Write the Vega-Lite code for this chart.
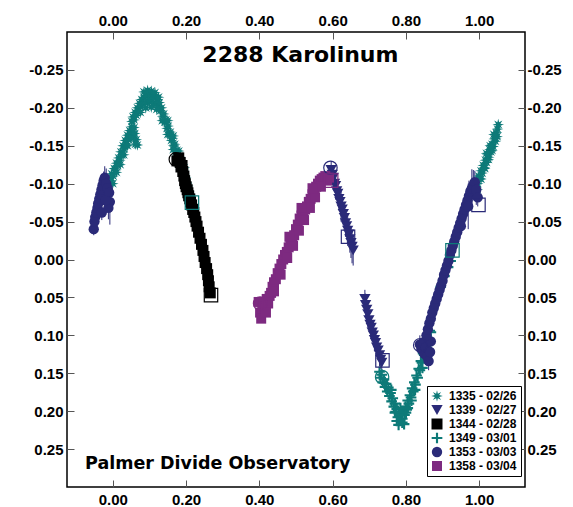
{
"$schema": "https://vega.github.io/schema/vega-lite/v6.json",
"width": 458, "height": 455,
"autosize": {"type": "none"},
"padding": {"left": 67, "top": 32, "right": 48, "bottom": 20},
"background": "white",
"config": {
  "view": {"stroke": "black", "strokeWidth": 1.5},
  "axis": {"labelFont": "Liberation Sans", "labelFontWeight": "bold", "labelFontSize": 15, "labelColor": "black",
           "tickColor": "#555", "tickWidth": 1, "tickSize": -7, "domain": false, "grid": false, "title": null,
           "labelOverlap": false, "labelFlush": false}
},
"datasets": {
"pts": [
{"session":"1335 - 02/26","phase":-0.020,"mag":-0.090},{"session":"1335 - 02/26","phase":-0.017,"mag":-0.098},{"session":"1335 - 02/26","phase":-0.013,"mag":-0.096},{"session":"1335 - 02/26","phase":-0.010,"mag":-0.106},{"session":"1335 - 02/26","phase":-0.006,"mag":-0.104},{"session":"1335 - 02/26","phase":-0.003,"mag":-0.113},{"session":"1335 - 02/26","phase":0.001,"mag":-0.110},{"session":"1335 - 02/26","phase":0.004,"mag":-0.120},{"session":"1335 - 02/26","phase":0.007,"mag":-0.118},{"session":"1335 - 02/26","phase":0.010,"mag":-0.127},{"session":"1335 - 02/26","phase":0.013,"mag":-0.124},{"session":"1335 - 02/26","phase":0.016,"mag":-0.134},{"session":"1335 - 02/26","phase":0.019,"mag":-0.131},{"session":"1335 - 02/26","phase":0.022,"mag":-0.142},{"session":"1335 - 02/26","phase":0.025,"mag":-0.138},{"session":"1335 - 02/26","phase":0.028,"mag":-0.150},{"session":"1335 - 02/26","phase":0.031,"mag":-0.146},{"session":"1335 - 02/26","phase":0.034,"mag":-0.157},{"session":"1335 - 02/26","phase":0.037,"mag":-0.152},{"session":"1335 - 02/26","phase":0.040,"mag":-0.164},{"session":"1335 - 02/26","phase":0.043,"mag":-0.158},{"session":"1335 - 02/26","phase":0.046,"mag":-0.170},{"session":"1335 - 02/26","phase":0.049,"mag":-0.164},{"session":"1335 - 02/26","phase":0.052,"mag":-0.175},{"session":"1335 - 02/26","phase":0.055,"mag":-0.168},{"session":"1335 - 02/26","phase":0.057,"mag":-0.160},
{"session":"1335 - 02/26","phase":0.000,"mag":-0.100},{"session":"1335 - 02/26","phase":0.010,"mag":-0.115},{"session":"1335 - 02/26","phase":0.020,"mag":-0.125},{"session":"1335 - 02/26","phase":0.030,"mag":-0.138},{"session":"1335 - 02/26","phase":0.040,"mag":-0.150},{"session":"1335 - 02/26","phase":0.050,"mag":-0.160},{"session":"1335 - 02/26","phase":0.060,"mag":-0.166},{"session":"1335 - 02/26","phase":0.064,"mag":-0.158},{"session":"1335 - 02/26","phase":0.067,"mag":-0.151},{"session":"1335 - 02/26","phase":0.062,"mag":-0.152},{"session":"1335 - 02/26","phase":0.058,"mag":-0.174},
{"session":"1335 - 02/26","phase":0.052,"mag":-0.182},{"session":"1335 - 02/26","phase":0.055,"mag":-0.188},{"session":"1335 - 02/26","phase":0.058,"mag":-0.184},{"session":"1335 - 02/26","phase":0.061,"mag":-0.194},{"session":"1335 - 02/26","phase":0.064,"mag":-0.190},{"session":"1335 - 02/26","phase":0.067,"mag":-0.200},{"session":"1335 - 02/26","phase":0.070,"mag":-0.196},{"session":"1335 - 02/26","phase":0.073,"mag":-0.206},{"session":"1335 - 02/26","phase":0.076,"mag":-0.201},{"session":"1335 - 02/26","phase":0.079,"mag":-0.211},{"session":"1335 - 02/26","phase":0.082,"mag":-0.205},{"session":"1335 - 02/26","phase":0.085,"mag":-0.214},{"session":"1335 - 02/26","phase":0.088,"mag":-0.207},{"session":"1335 - 02/26","phase":0.091,"mag":-0.216},{"session":"1335 - 02/26","phase":0.094,"mag":-0.208},{"session":"1335 - 02/26","phase":0.097,"mag":-0.217},{"session":"1335 - 02/26","phase":0.100,"mag":-0.209},{"session":"1335 - 02/26","phase":0.103,"mag":-0.216},{"session":"1335 - 02/26","phase":0.106,"mag":-0.208},{"session":"1335 - 02/26","phase":0.109,"mag":-0.215},{"session":"1335 - 02/26","phase":0.112,"mag":-0.206},{"session":"1335 - 02/26","phase":0.115,"mag":-0.214},{"session":"1335 - 02/26","phase":0.118,"mag":-0.205},{"session":"1335 - 02/26","phase":0.121,"mag":-0.211},{"session":"1335 - 02/26","phase":0.124,"mag":-0.201},{"session":"1335 - 02/26","phase":0.127,"mag":-0.207},{"session":"1335 - 02/26","phase":0.130,"mag":-0.196},{"session":"1335 - 02/26","phase":0.133,"mag":-0.200},{"session":"1335 - 02/26","phase":0.136,"mag":-0.189},{"session":"1335 - 02/26","phase":0.139,"mag":-0.192},{"session":"1335 - 02/26","phase":0.142,"mag":-0.181},{"session":"1335 - 02/26","phase":0.145,"mag":-0.184},{"session":"1335 - 02/26","phase":0.148,"mag":-0.173},{"session":"1335 - 02/26","phase":0.151,"mag":-0.176},{"session":"1335 - 02/26","phase":0.154,"mag":-0.165},{"session":"1335 - 02/26","phase":0.157,"mag":-0.168},{"session":"1335 - 02/26","phase":0.160,"mag":-0.157},{"session":"1335 - 02/26","phase":0.163,"mag":-0.160},{"session":"1335 - 02/26","phase":0.166,"mag":-0.150},{"session":"1335 - 02/26","phase":0.169,"mag":-0.152},{"session":"1335 - 02/26","phase":0.172,"mag":-0.142},{"session":"1335 - 02/26","phase":0.175,"mag":-0.144},{"session":"1335 - 02/26","phase":0.178,"mag":-0.135},{"session":"1335 - 02/26","phase":0.181,"mag":-0.136},{"session":"1335 - 02/26","phase":0.184,"mag":-0.127},{"session":"1335 - 02/26","phase":0.187,"mag":-0.128},{"session":"1335 - 02/26","phase":0.190,"mag":-0.119},{"session":"1335 - 02/26","phase":0.193,"mag":-0.118},{"session":"1335 - 02/26","phase":0.196,"mag":-0.110},{"session":"1335 - 02/26","phase":0.199,"mag":-0.108},{"session":"1335 - 02/26","phase":0.202,"mag":-0.100},{"session":"1335 - 02/26","phase":0.205,"mag":-0.097},{"session":"1335 - 02/26","phase":0.208,"mag":-0.089},{"session":"1335 - 02/26","phase":0.211,"mag":-0.086},{"session":"1335 - 02/26","phase":0.214,"mag":-0.078},{"session":"1335 - 02/26","phase":0.217,"mag":-0.074},
{"session":"1335 - 02/26","phase":0.085,"mag":-0.221},{"session":"1335 - 02/26","phase":0.095,"mag":-0.223},{"session":"1335 - 02/26","phase":0.105,"mag":-0.222},{"session":"1335 - 02/26","phase":0.115,"mag":-0.220},{"session":"1335 - 02/26","phase":0.125,"mag":-0.214},{"session":"1335 - 02/26","phase":0.075,"mag":-0.194},{"session":"1335 - 02/26","phase":0.090,"mag":-0.200},{"session":"1335 - 02/26","phase":0.105,"mag":-0.201},{"session":"1335 - 02/26","phase":0.120,"mag":-0.198},{"session":"1335 - 02/26","phase":0.135,"mag":-0.183},{"session":"1335 - 02/26","phase":0.150,"mag":-0.165},{"session":"1335 - 02/26","phase":0.165,"mag":-0.145},{"session":"1335 - 02/26","phase":0.180,"mag":-0.126},{"session":"1335 - 02/26","phase":0.195,"mag":-0.104},{"session":"1335 - 02/26","phase":0.150,"mag":-0.183},{"session":"1335 - 02/26","phase":0.165,"mag":-0.163},{"session":"1335 - 02/26","phase":0.180,"mag":-0.143},{"session":"1335 - 02/26","phase":0.195,"mag":-0.121},
{"session":"1335 - 02/26","phase":0.984,"mag":-0.088},{"session":"1335 - 02/26","phase":0.987,"mag":-0.096},{"session":"1335 - 02/26","phase":0.990,"mag":-0.093},{"session":"1335 - 02/26","phase":0.993,"mag":-0.103},{"session":"1335 - 02/26","phase":0.996,"mag":-0.100},{"session":"1335 - 02/26","phase":0.999,"mag":-0.110},{"session":"1335 - 02/26","phase":1.002,"mag":-0.107},{"session":"1335 - 02/26","phase":1.005,"mag":-0.117},{"session":"1335 - 02/26","phase":1.008,"mag":-0.114},{"session":"1335 - 02/26","phase":1.011,"mag":-0.124},{"session":"1335 - 02/26","phase":1.014,"mag":-0.121},{"session":"1335 - 02/26","phase":1.017,"mag":-0.131},{"session":"1335 - 02/26","phase":1.020,"mag":-0.128},{"session":"1335 - 02/26","phase":1.023,"mag":-0.138},{"session":"1335 - 02/26","phase":1.026,"mag":-0.135},{"session":"1335 - 02/26","phase":1.029,"mag":-0.145},{"session":"1335 - 02/26","phase":1.032,"mag":-0.142},{"session":"1335 - 02/26","phase":1.035,"mag":-0.152},{"session":"1335 - 02/26","phase":1.038,"mag":-0.149},{"session":"1335 - 02/26","phase":1.041,"mag":-0.159},{"session":"1335 - 02/26","phase":1.044,"mag":-0.156},{"session":"1335 - 02/26","phase":1.047,"mag":-0.167},{"session":"1335 - 02/26","phase":1.049,"mag":-0.162},{"session":"1335 - 02/26","phase":1.050,"mag":-0.172},
{"session":"1335 - 02/26","phase":0.995,"mag":-0.092},{"session":"1335 - 02/26","phase":1.005,"mag":-0.106},{"session":"1335 - 02/26","phase":1.015,"mag":-0.120},{"session":"1335 - 02/26","phase":1.025,"mag":-0.132},{"session":"1335 - 02/26","phase":1.035,"mag":-0.144},{"session":"1335 - 02/26","phase":1.045,"mag":-0.160},{"session":"1335 - 02/26","phase":1.052,"mag":-0.178},{"session":"1335 - 02/26","phase":1.040,"mag":-0.165},{"session":"1335 - 02/26","phase":1.030,"mag":-0.150},{"session":"1335 - 02/26","phase":1.020,"mag":-0.140},
{"session":"1349 - 03/01","phase":0.728,"mag":0.148},{"session":"1349 - 03/01","phase":0.731,"mag":0.156},{"session":"1349 - 03/01","phase":0.734,"mag":0.152},{"session":"1349 - 03/01","phase":0.737,"mag":0.162},{"session":"1349 - 03/01","phase":0.740,"mag":0.158},{"session":"1349 - 03/01","phase":0.743,"mag":0.168},{"session":"1349 - 03/01","phase":0.746,"mag":0.164},{"session":"1349 - 03/01","phase":0.749,"mag":0.174},{"session":"1349 - 03/01","phase":0.752,"mag":0.169},{"session":"1349 - 03/01","phase":0.755,"mag":0.180},{"session":"1349 - 03/01","phase":0.758,"mag":0.176},{"session":"1349 - 03/01","phase":0.761,"mag":0.187},{"session":"1349 - 03/01","phase":0.764,"mag":0.183},{"session":"1349 - 03/01","phase":0.767,"mag":0.194},{"session":"1349 - 03/01","phase":0.770,"mag":0.190},{"session":"1349 - 03/01","phase":0.772,"mag":0.201},{"session":"1349 - 03/01","phase":0.775,"mag":0.197},{"session":"1349 - 03/01","phase":0.778,"mag":0.208},{"session":"1349 - 03/01","phase":0.781,"mag":0.203},{"session":"1349 - 03/01","phase":0.784,"mag":0.213},{"session":"1349 - 03/01","phase":0.787,"mag":0.205},{"session":"1349 - 03/01","phase":0.790,"mag":0.210},{"session":"1349 - 03/01","phase":0.793,"mag":0.200},{"session":"1349 - 03/01","phase":0.796,"mag":0.205},{"session":"1349 - 03/01","phase":0.799,"mag":0.194},{"session":"1349 - 03/01","phase":0.802,"mag":0.198},{"session":"1349 - 03/01","phase":0.805,"mag":0.186},{"session":"1349 - 03/01","phase":0.808,"mag":0.190},{"session":"1349 - 03/01","phase":0.811,"mag":0.179},{"session":"1349 - 03/01","phase":0.814,"mag":0.182},{"session":"1349 - 03/01","phase":0.817,"mag":0.170},{"session":"1349 - 03/01","phase":0.820,"mag":0.174},{"session":"1349 - 03/01","phase":0.823,"mag":0.162},{"session":"1349 - 03/01","phase":0.826,"mag":0.165},{"session":"1349 - 03/01","phase":0.829,"mag":0.153},{"session":"1349 - 03/01","phase":0.832,"mag":0.156},{"session":"1349 - 03/01","phase":0.835,"mag":0.144},{"session":"1349 - 03/01","phase":0.838,"mag":0.146},{"session":"1349 - 03/01","phase":0.841,"mag":0.134},{"session":"1349 - 03/01","phase":0.844,"mag":0.136},{"session":"1349 - 03/01","phase":0.847,"mag":0.124},{"session":"1349 - 03/01","phase":0.850,"mag":0.126},{"session":"1349 - 03/01","phase":0.853,"mag":0.114},{"session":"1349 - 03/01","phase":0.856,"mag":0.116},{"session":"1349 - 03/01","phase":0.859,"mag":0.104},{"session":"1349 - 03/01","phase":0.862,"mag":0.106},{"session":"1349 - 03/01","phase":0.865,"mag":0.094},{"session":"1349 - 03/01","phase":0.868,"mag":0.096},{"session":"1349 - 03/01","phase":0.895,"mag":0.036},{"session":"1349 - 03/01","phase":0.905,"mag":0.022},{"session":"1349 - 03/01","phase":0.915,"mag":0.010},{"session":"1349 - 03/01","phase":0.922,"mag":0.002},
{"session":"1349 - 03/01","phase":0.760,"mag":0.172},{"session":"1349 - 03/01","phase":0.770,"mag":0.202},{"session":"1349 - 03/01","phase":0.780,"mag":0.218},{"session":"1349 - 03/01","phase":0.790,"mag":0.215},{"session":"1349 - 03/01","phase":0.800,"mag":0.202},{"session":"1349 - 03/01","phase":0.775,"mag":0.213},{"session":"1349 - 03/01","phase":0.795,"mag":0.217},{"session":"1349 - 03/01","phase":0.785,"mag":0.196},{"session":"1349 - 03/01","phase":0.805,"mag":0.196},{"session":"1349 - 03/01","phase":0.815,"mag":0.186},{"session":"1349 - 03/01","phase":0.825,"mag":0.172},{"session":"1349 - 03/01","phase":0.845,"mag":0.143},
{"session":"1339 - 02/27","phase":0.596,"mag":-0.118,"err":0.012},{"session":"1339 - 02/27","phase":0.599,"mag":-0.112,"err":0.010},{"session":"1339 - 02/27","phase":0.602,"mag":-0.108,"err":0.015},{"session":"1339 - 02/27","phase":0.605,"mag":-0.100,"err":0.010},{"session":"1339 - 02/27","phase":0.608,"mag":-0.097,"err":0.018},{"session":"1339 - 02/27","phase":0.611,"mag":-0.090,"err":0.012},{"session":"1339 - 02/27","phase":0.614,"mag":-0.087,"err":0.010},{"session":"1339 - 02/27","phase":0.617,"mag":-0.080,"err":0.015},{"session":"1339 - 02/27","phase":0.620,"mag":-0.076,"err":0.012},{"session":"1339 - 02/27","phase":0.623,"mag":-0.070,"err":0.020},{"session":"1339 - 02/27","phase":0.626,"mag":-0.066,"err":0.012},{"session":"1339 - 02/27","phase":0.629,"mag":-0.060,"err":0.015},{"session":"1339 - 02/27","phase":0.632,"mag":-0.055,"err":0.010},{"session":"1339 - 02/27","phase":0.635,"mag":-0.048,"err":0.018},{"session":"1339 - 02/27","phase":0.638,"mag":-0.044,"err":0.012},{"session":"1339 - 02/27","phase":0.641,"mag":-0.038,"err":0.020},{"session":"1339 - 02/27","phase":0.644,"mag":-0.033,"err":0.015},{"session":"1339 - 02/27","phase":0.647,"mag":-0.027,"err":0.018},{"session":"1339 - 02/27","phase":0.650,"mag":-0.022,"err":0.020},{"session":"1339 - 02/27","phase":0.653,"mag":-0.017,"err":0.022},{"session":"1339 - 02/27","phase":0.656,"mag":-0.012,"err":0.020},
{"session":"1339 - 02/27","phase":0.688,"mag":0.052,"err":0.012},{"session":"1339 - 02/27","phase":0.690,"mag":0.060,"err":0.015},{"session":"1339 - 02/27","phase":0.693,"mag":0.066,"err":0.010},{"session":"1339 - 02/27","phase":0.696,"mag":0.072,"err":0.018},{"session":"1339 - 02/27","phase":0.699,"mag":0.080,"err":0.012},{"session":"1339 - 02/27","phase":0.702,"mag":0.086,"err":0.010},{"session":"1339 - 02/27","phase":0.705,"mag":0.090,"err":0.015},{"session":"1339 - 02/27","phase":0.708,"mag":0.096,"err":0.012},{"session":"1339 - 02/27","phase":0.711,"mag":0.100,"err":0.010},{"session":"1339 - 02/27","phase":0.714,"mag":0.106,"err":0.015},{"session":"1339 - 02/27","phase":0.717,"mag":0.110,"err":0.012},{"session":"1339 - 02/27","phase":0.720,"mag":0.116,"err":0.010},{"session":"1339 - 02/27","phase":0.724,"mag":0.120,"err":0.012},{"session":"1339 - 02/27","phase":0.728,"mag":0.126,"err":0.015},{"session":"1339 - 02/27","phase":0.731,"mag":0.132,"err":0.012},{"session":"1339 - 02/27","phase":0.734,"mag":0.136,"err":0.010},
{"session":"1353 - 03/03","phase":-0.052,"mag":-0.040,"err":0.008},{"session":"1353 - 03/03","phase":-0.050,"mag":-0.050,"err":0.010},{"session":"1353 - 03/03","phase":-0.048,"mag":-0.056,"err":0.012},{"session":"1353 - 03/03","phase":-0.045,"mag":-0.062,"err":0.010},{"session":"1353 - 03/03","phase":-0.042,"mag":-0.068,"err":0.015},{"session":"1353 - 03/03","phase":-0.040,"mag":-0.074,"err":0.012},{"session":"1353 - 03/03","phase":-0.037,"mag":-0.080,"err":0.010},{"session":"1353 - 03/03","phase":-0.034,"mag":-0.086,"err":0.015},{"session":"1353 - 03/03","phase":-0.031,"mag":-0.092,"err":0.012},{"session":"1353 - 03/03","phase":-0.028,"mag":-0.098,"err":0.010},{"session":"1353 - 03/03","phase":-0.025,"mag":-0.104,"err":0.012},{"session":"1353 - 03/03","phase":-0.022,"mag":-0.108,"err":0.015},{"session":"1353 - 03/03","phase":-0.018,"mag":-0.100,"err":0.020},{"session":"1353 - 03/03","phase":-0.014,"mag":-0.094,"err":0.015},{"session":"1353 - 03/03","phase":-0.010,"mag":-0.088,"err":0.020},{"session":"1353 - 03/03","phase":-0.008,"mag":-0.076,"err":0.030},{"session":"1353 - 03/03","phase":-0.012,"mag":-0.068,"err":0.015},{"session":"1353 - 03/03","phase":-0.020,"mag":-0.078,"err":0.012},{"session":"1353 - 03/03","phase":-0.030,"mag":-0.062,"err":0.010},
{"session":"1353 - 03/03","phase":0.838,"mag":0.112,"err":0.012},{"session":"1353 - 03/03","phase":0.842,"mag":0.118,"err":0.015},{"session":"1353 - 03/03","phase":0.846,"mag":0.110,"err":0.010},{"session":"1353 - 03/03","phase":0.850,"mag":0.124,"err":0.012},{"session":"1353 - 03/03","phase":0.854,"mag":0.116,"err":0.018},{"session":"1353 - 03/03","phase":0.858,"mag":0.128,"err":0.010},{"session":"1353 - 03/03","phase":0.862,"mag":0.134,"err":0.012},{"session":"1353 - 03/03","phase":0.866,"mag":0.122,"err":0.015},{"session":"1353 - 03/03","phase":0.868,"mag":0.108,"err":0.010},{"session":"1353 - 03/03","phase":0.856,"mag":0.100,"err":0.012},{"session":"1353 - 03/03","phase":0.860,"mag":0.092,"err":0.010},{"session":"1353 - 03/03","phase":0.864,"mag":0.084,"err":0.012},{"session":"1353 - 03/03","phase":0.868,"mag":0.078,"err":0.010},{"session":"1353 - 03/03","phase":0.872,"mag":0.070,"err":0.012},{"session":"1353 - 03/03","phase":0.876,"mag":0.064,"err":0.010},{"session":"1353 - 03/03","phase":0.880,"mag":0.058,"err":0.012},{"session":"1353 - 03/03","phase":0.884,"mag":0.052,"err":0.010},{"session":"1353 - 03/03","phase":0.888,"mag":0.046,"err":0.012},{"session":"1353 - 03/03","phase":0.892,"mag":0.040,"err":0.010},{"session":"1353 - 03/03","phase":0.896,"mag":0.034,"err":0.012},{"session":"1353 - 03/03","phase":0.900,"mag":0.028,"err":0.010},{"session":"1353 - 03/03","phase":0.904,"mag":0.020,"err":0.012},{"session":"1353 - 03/03","phase":0.908,"mag":0.014,"err":0.010},{"session":"1353 - 03/03","phase":0.912,"mag":0.008,"err":0.012},{"session":"1353 - 03/03","phase":0.916,"mag":0.002,"err":0.010},{"session":"1353 - 03/03","phase":0.920,"mag":-0.006,"err":0.012},{"session":"1353 - 03/03","phase":0.924,"mag":-0.012,"err":0.010},{"session":"1353 - 03/03","phase":0.928,"mag":-0.018,"err":0.012},{"session":"1353 - 03/03","phase":0.932,"mag":-0.024,"err":0.010},{"session":"1353 - 03/03","phase":0.936,"mag":-0.030,"err":0.012},{"session":"1353 - 03/03","phase":0.940,"mag":-0.036,"err":0.010},{"session":"1353 - 03/03","phase":0.944,"mag":-0.042,"err":0.012},{"session":"1353 - 03/03","phase":0.948,"mag":-0.048,"err":0.010},{"session":"1353 - 03/03","phase":0.952,"mag":-0.054,"err":0.012},{"session":"1353 - 03/03","phase":0.956,"mag":-0.060,"err":0.010},{"session":"1353 - 03/03","phase":0.960,"mag":-0.066,"err":0.012},{"session":"1353 - 03/03","phase":0.964,"mag":-0.072,"err":0.015},{"session":"1353 - 03/03","phase":0.968,"mag":-0.078,"err":0.012},{"session":"1353 - 03/03","phase":0.972,"mag":-0.084,"err":0.020},{"session":"1353 - 03/03","phase":0.976,"mag":-0.090,"err":0.015},{"session":"1353 - 03/03","phase":0.980,"mag":-0.094,"err":0.025},{"session":"1353 - 03/03","phase":0.984,"mag":-0.098,"err":0.020},{"session":"1353 - 03/03","phase":0.988,"mag":-0.102,"err":0.015},{"session":"1353 - 03/03","phase":0.992,"mag":-0.092,"err":0.020},{"session":"1353 - 03/03","phase":0.996,"mag":-0.082,"err":0.012},{"session":"1353 - 03/03","phase":0.970,"mag":-0.070,"err":0.030},{"session":"1353 - 03/03","phase":0.950,"mag":-0.044,"err":0.010},
{"session":"1344 - 02/28","phase":0.175,"mag":-0.130},{"session":"1344 - 02/28","phase":0.180,"mag":-0.134},{"session":"1344 - 02/28","phase":0.184,"mag":-0.128},{"session":"1344 - 02/28","phase":0.186,"mag":-0.122},{"session":"1344 - 02/28","phase":0.189,"mag":-0.124},{"session":"1344 - 02/28","phase":0.191,"mag":-0.116},{"session":"1344 - 02/28","phase":0.194,"mag":-0.110},{"session":"1344 - 02/28","phase":0.196,"mag":-0.104},{"session":"1344 - 02/28","phase":0.198,"mag":-0.100},{"session":"1344 - 02/28","phase":0.200,"mag":-0.096},{"session":"1344 - 02/28","phase":0.203,"mag":-0.092},{"session":"1344 - 02/28","phase":0.205,"mag":-0.088},{"session":"1344 - 02/28","phase":0.207,"mag":-0.084},{"session":"1344 - 02/28","phase":0.210,"mag":-0.080},{"session":"1344 - 02/28","phase":0.212,"mag":-0.076},{"session":"1344 - 02/28","phase":0.215,"mag":-0.072},{"session":"1344 - 02/28","phase":0.218,"mag":-0.066},{"session":"1344 - 02/28","phase":0.221,"mag":-0.062},{"session":"1344 - 02/28","phase":0.224,"mag":-0.056},{"session":"1344 - 02/28","phase":0.227,"mag":-0.050},{"session":"1344 - 02/28","phase":0.230,"mag":-0.044},{"session":"1344 - 02/28","phase":0.234,"mag":-0.036},{"session":"1344 - 02/28","phase":0.238,"mag":-0.028},{"session":"1344 - 02/28","phase":0.242,"mag":-0.020},{"session":"1344 - 02/28","phase":0.246,"mag":-0.012},{"session":"1344 - 02/28","phase":0.249,"mag":-0.004},{"session":"1344 - 02/28","phase":0.252,"mag":0.004},{"session":"1344 - 02/28","phase":0.256,"mag":0.012},{"session":"1344 - 02/28","phase":0.259,"mag":0.020},{"session":"1344 - 02/28","phase":0.261,"mag":0.028},{"session":"1344 - 02/28","phase":0.263,"mag":0.036},{"session":"1344 - 02/28","phase":0.266,"mag":0.044},
{"session":"1358 - 03/04","phase":0.398,"mag":0.056},{"session":"1358 - 03/04","phase":0.402,"mag":0.070},{"session":"1358 - 03/04","phase":0.405,"mag":0.078},{"session":"1358 - 03/04","phase":0.408,"mag":0.064},{"session":"1358 - 03/04","phase":0.412,"mag":0.056},{"session":"1358 - 03/04","phase":0.416,"mag":0.062},{"session":"1358 - 03/04","phase":0.420,"mag":0.052},{"session":"1358 - 03/04","phase":0.424,"mag":0.058},{"session":"1358 - 03/04","phase":0.428,"mag":0.048},{"session":"1358 - 03/04","phase":0.432,"mag":0.044},{"session":"1358 - 03/04","phase":0.436,"mag":0.036},{"session":"1358 - 03/04","phase":0.440,"mag":0.030},{"session":"1358 - 03/04","phase":0.445,"mag":0.026},{"session":"1358 - 03/04","phase":0.450,"mag":0.018},{"session":"1358 - 03/04","phase":0.455,"mag":0.012},{"session":"1358 - 03/04","phase":0.460,"mag":0.006},{"session":"1358 - 03/04","phase":0.465,"mag":0.000},{"session":"1358 - 03/04","phase":0.470,"mag":-0.006},{"session":"1358 - 03/04","phase":0.475,"mag":-0.010},{"session":"1358 - 03/04","phase":0.480,"mag":-0.016},{"session":"1358 - 03/04","phase":0.485,"mag":-0.022},{"session":"1358 - 03/04","phase":0.490,"mag":-0.026},{"session":"1358 - 03/04","phase":0.495,"mag":-0.032},{"session":"1358 - 03/04","phase":0.500,"mag":-0.040},{"session":"1358 - 03/04","phase":0.505,"mag":-0.046},{"session":"1358 - 03/04","phase":0.510,"mag":-0.054},{"session":"1358 - 03/04","phase":0.515,"mag":-0.058},{"session":"1358 - 03/04","phase":0.520,"mag":-0.062},{"session":"1358 - 03/04","phase":0.525,"mag":-0.066},{"session":"1358 - 03/04","phase":0.530,"mag":-0.070},{"session":"1358 - 03/04","phase":0.535,"mag":-0.076},{"session":"1358 - 03/04","phase":0.540,"mag":-0.080},{"session":"1358 - 03/04","phase":0.545,"mag":-0.086},{"session":"1358 - 03/04","phase":0.550,"mag":-0.092},{"session":"1358 - 03/04","phase":0.555,"mag":-0.096},{"session":"1358 - 03/04","phase":0.560,"mag":-0.100},{"session":"1358 - 03/04","phase":0.565,"mag":-0.104},{"session":"1358 - 03/04","phase":0.570,"mag":-0.106},{"session":"1358 - 03/04","phase":0.575,"mag":-0.108},{"session":"1358 - 03/04","phase":0.580,"mag":-0.110},{"session":"1358 - 03/04","phase":0.585,"mag":-0.104},{"session":"1358 - 03/04","phase":0.590,"mag":-0.108},
{"session":"1358 - 03/04","phase":0.418,"mag":0.070},{"session":"1358 - 03/04","phase":0.440,"mag":0.042},{"session":"1358 - 03/04","phase":0.458,"mag":0.020},{"session":"1358 - 03/04","phase":0.476,"mag":-0.002},{"session":"1358 - 03/04","phase":0.492,"mag":-0.018},{"session":"1358 - 03/04","phase":0.508,"mag":-0.038},{"session":"1358 - 03/04","phase":0.522,"mag":-0.052},{"session":"1358 - 03/04","phase":0.538,"mag":-0.068},{"session":"1358 - 03/04","phase":0.552,"mag":-0.082},{"session":"1358 - 03/04","phase":0.568,"mag":-0.096},{"session":"1358 - 03/04","phase":0.482,"mag":-0.030},{"session":"1358 - 03/04","phase":0.515,"mag":-0.068},{"session":"1358 - 03/04","phase":0.545,"mag":-0.094}
],
"marks": [
{"session":"1344 - 02/28","kind":"start","phase":0.172,"mag":-0.132},
{"session":"1358 - 03/04","kind":"start","phase":0.402,"mag":0.058},
{"session":"1339 - 02/27","kind":"start","phase":0.594,"mag":-0.121},
{"session":"1349 - 03/01","kind":"start","phase":0.735,"mag":0.155},
{"session":"1353 - 03/03","kind":"start","phase":0.839,"mag":0.113},
{"session":"1335 - 02/26","kind":"end","phase":0.216,"mag":-0.075},
{"session":"1344 - 02/28","kind":"end","phase":0.268,"mag":0.047},
{"session":"1358 - 03/04","kind":"end","phase":0.596,"mag":-0.104},
{"session":"1339 - 02/27","kind":"end","phase":0.642,"mag":-0.030},
{"session":"1339 - 02/27","kind":"end","phase":0.736,"mag":0.133},
{"session":"1349 - 03/01","kind":"end","phase":0.927,"mag":-0.012},
{"session":"1353 - 03/03","kind":"end","phase":0.998,"mag":-0.072}
]
},
"layer": [
{
  "data": {"name": "pts"},
  "transform": [{"filter": "isValid(datum.err)"}],
  "mark": {"type": "errorbar", "color": "#2a2a78", "thickness": 1},
  "encoding": {
    "x": {"field": "phase", "type": "quantitative", "axis": null},
    "y": {"field": "mag", "type": "quantitative", "axis": null},
    "yError": {"field": "err"}
  }
},
{
  "data": {"name": "pts"},
  "mark": {"type": "point", "filled": true, "opacity": 1},
  "encoding": {
    "x": {"field": "phase", "type": "quantitative",
          "scale": {"domain": [-0.125, 1.125], "nice": false, "zero": false},
          "axis": {"orient": "bottom", "values": [0, 0.2, 0.4, 0.6, 0.8, 1.0], "labelPadding": 12,
                   "labelExpr": "replace(format(datum.value, '.2f'), '\u2212', '-')"}},
    "y": {"field": "mag", "type": "quantitative",
          "scale": {"domain": [-0.30, 0.30], "nice": false, "zero": false, "reverse": true},
          "axis": {"orient": "left", "values": [-0.25, -0.2, -0.15, -0.1, -0.05, 0, 0.05, 0.1, 0.15, 0.2, 0.25], "labelPadding": 11,
                   "labelExpr": "replace(format(datum.value, '.2f'), '\u2212', '-')"}},
    "color": {"field": "session", "type": "nominal",
              "scale": {"domain": ["1335 - 02/26","1339 - 02/27","1344 - 02/28","1349 - 03/01","1353 - 03/03","1358 - 03/04"],
                        "range": ["#0d7a78","#2a2a78","#000000","#0d7a78","#2a2a78","#7d2a80"]},
              "legend": {"orient": "none", "legendX": 360, "legendY": 354, "title": null,
                         "strokeColor": "black", "fillColor": "white", "padding": 4,
                         "labelFont": "Liberation Sans", "labelFontWeight": "bold", "labelFontSize": 12, "labelColor": "black",
                         "symbolSize": 90, "rowPadding": 2, "labelOffset": 6, "symbolStrokeWidth": 0}},
    "shape": {"field": "session", "type": "nominal",
              "scale": {"domain": ["1335 - 02/26","1339 - 02/27","1344 - 02/28","1349 - 03/01","1353 - 03/03","1358 - 03/04"],
                        "range": ["M1,0L0.37,0.153L0.707,0.707L0.153,0.37L0,1L-0.153,0.37L-0.707,0.707L-0.37,0.153L-1,0L-0.37,-0.153L-0.707,-0.707L-0.153,-0.37L0,-1L0.153,-0.37L0.707,-0.707L0.37,-0.153Z",
                                  "triangle-down", "square",
                                  "M-1,-0.2L-0.2,-0.2L-0.2,-1L0.2,-1L0.2,-0.2L1,-0.2L1,0.2L0.2,0.2L0.2,1L-0.2,1L-0.2,0.2L-1,0.2Z",
                                  "circle", "square"]}},
    "size": {"field": "session", "type": "nominal", "legend": null,
             "scale": {"domain": ["1335 - 02/26","1339 - 02/27","1344 - 02/28","1349 - 03/01","1353 - 03/03","1358 - 03/04"],
                       "range": [135, 100, 90, 120, 80, 100]}}
  }
},
{
  "data": {"name": "marks"},
  "transform": [{"filter": "datum.kind == 'start'"}],
  "mark": {"type": "point", "shape": "circle", "filled": false, "size": 180, "strokeWidth": 1.2, "opacity": 1},
  "encoding": {
    "x": {"field": "phase", "type": "quantitative",
          "axis": {"orient": "top", "values": [0, 0.2, 0.4, 0.6, 0.8, 1.0], "labelPadding": 11,
                   "labelExpr": "replace(format(datum.value, '.2f'), '\u2212', '-')"}},
    "y": {"field": "mag", "type": "quantitative",
          "axis": {"orient": "right", "values": [-0.25, -0.2, -0.15, -0.1, -0.05, 0, 0.05, 0.1, 0.15, 0.2, 0.25], "labelPadding": 9,
                   "labelExpr": "replace(format(datum.value, '.2f'), '\u2212', '-')"}},
    "color": {"field": "session", "type": "nominal"}
  }
},
{
  "data": {"name": "marks"},
  "transform": [{"filter": "datum.kind == 'end'"}],
  "mark": {"type": "point", "shape": "square", "filled": false, "size": 180, "strokeWidth": 1.2, "opacity": 1},
  "encoding": {
    "x": {"field": "phase", "type": "quantitative", "axis": null},
    "y": {"field": "mag", "type": "quantitative", "axis": null},
    "color": {"field": "session", "type": "nominal"}
  }
},
{
  "data": {"values": [{"label": "2288 Karolinum"}]},
  "mark": {"type": "text", "font": "DejaVu Sans", "fontWeight": "bold", "fontSize": 22, "align": "center", "baseline": "alphabetic", "color": "black"},
  "encoding": {
    "x": {"datum": 0.512, "type": "quantitative", "axis": null},
    "y": {"datum": -0.261, "type": "quantitative", "axis": null},
    "text": {"field": "label"}
  }
},
{
  "data": {"values": [{"label": "Palmer Divide Observatory"}]},
  "mark": {"type": "text", "font": "DejaVu Sans", "fontWeight": "bold", "fontSize": 17.5, "align": "left", "baseline": "alphabetic", "color": "black"},
  "encoding": {
    "x": {"datum": -0.0758, "type": "quantitative", "axis": null},
    "y": {"datum": 0.2763, "type": "quantitative", "axis": null},
    "text": {"field": "label"}
  }
}
],
"resolve": {"axis": {"x": "independent", "y": "independent"}}
}
